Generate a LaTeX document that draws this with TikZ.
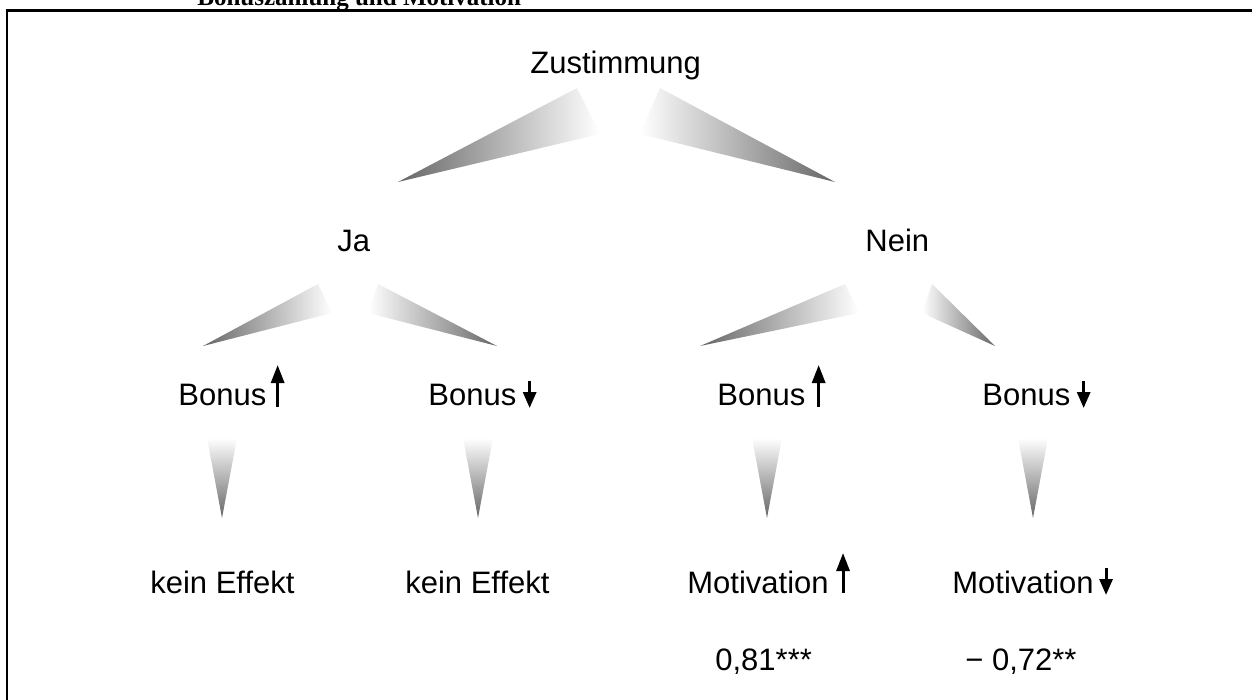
\documentclass[tikz,border=0pt]{standalone}
\usepackage{fontspec}
\setmainfont{Liberation Sans}
\newfontfamily\titlefont{Liberation Serif}
\usetikzlibrary{arrows.meta,calc}

\tikzset{every picture/.style={line width=0.75pt}}
\tikzset{
  lbl/.style={anchor=base west,inner sep=0pt,font=\fontsize{31}{37}\selectfont},
  fadeL/.style={left color=black!60,right color=white},
  fadeR/.style={left color=white,right color=black!60},
  fadeD/.style={top color=white,bottom color=black!60},
  uparr/.style={line width=3pt,-{Triangle[length=18pt,width=13pt]}},
  dnarr/.style={line width=3pt,-{Triangle[length=16pt,width=13pt]}},
}

\begin{document}
\begin{tikzpicture}[x=1pt,y=1pt,yscale=-1,xscale=1]
\useasboundingbox (0,0) rectangle (1252,699);

% Title, cut by the page edge
\draw (197,5) node (title) [anchor=base west,inner sep=0pt] {\titlefont\bfseries\fontsize{25}{30}\selectfont Bonuszahlung und Motivation};
%Shape: Frame
\draw [line width=2.3pt] (7,720) -- (7,10.5) -- (1270,10.5) ;

%Shape: Wedge top left
\shade [fadeL] (398,182) -- (577,88) -- (600,134) -- cycle ;
%Shape: Wedge top right
\shade [fadeR] (835,182) -- (660,88) -- (640,134) -- cycle ;
%Shape: Wedge Ja left
\shade [fadeL] (203,346) -- (318,284) -- (332,313) -- cycle ;
%Shape: Wedge Ja right
\shade [fadeR] (497,346) -- (378,284) -- (368,313) -- cycle ;
%Shape: Wedge Nein left
\shade [fadeL] (700,346) -- (845,284) -- (859,313) -- cycle ;
%Shape: Wedge Nein right
\shade [fadeR] (995,346) -- (932,284) -- (922,313) -- cycle ;
%Shape: Wedge down 1
\shade [fadeD] (207,438) -- (237,438) -- (222,518) -- cycle ;
%Shape: Wedge down 2
\shade [fadeD] (463,438) -- (493,438) -- (478,518) -- cycle ;
%Shape: Wedge down 3
\shade [fadeD] (752,438) -- (782,438) -- (767,518) -- cycle ;
%Shape: Wedge down 4
\shade [fadeD] (1018,438) -- (1048,438) -- (1033,518) -- cycle ;

% Text Node
\draw (530,73) node (zust) [lbl] {Zustimmung};
% Text Node
\draw (337,251) node (ja) [lbl] {Ja};
% Text Node
\draw (865,251) node (nein) [lbl] {Nein};
% Text Node
\draw (178,405) node (bonA) [lbl] {Bonus};
% Text Node
\draw (428,405) node (bonB) [lbl] {Bonus};
% Text Node
\draw (717,405) node (bonC) [lbl] {Bonus};
% Text Node
\draw (982,405) node (bonD) [lbl] {Bonus};
% Text Node
\draw (150,593) node (effA) [lbl] {kein Effekt};
% Text Node
\draw (405,593) node (effB) [lbl] {kein Effekt};
% Text Node
\draw (687,593) node (motC) [lbl] {Motivation};
% Text Node
\draw (952,593) node (motD) [lbl] {Motivation};
% Text Node
\draw (715,670) node (corC) [lbl] {0,81***};
% Text Node
\draw (965,670) node (corD) [lbl] {− 0,72**};

%Arrows beside the labels
\draw [uparr] ($(bonA.base east)+(11,2)$) -- ++(0,-42) ;
\draw [dnarr] ($(bonB.base east)+(13,-24)$) -- ++(0,27) ;
\draw [uparr] ($(bonC.base east)+(13,2)$) -- ++(0,-42) ;
\draw [dnarr] ($(bonD.base east)+(13,-24)$) -- ++(0,27) ;
\draw [uparr] ($(motC.base east)+(14,0)$) -- ++(0,-40) ;
\draw [dnarr] ($(motD.base east)+(12,-25)$) -- ++(0,27) ;

\end{tikzpicture}
\end{document}
